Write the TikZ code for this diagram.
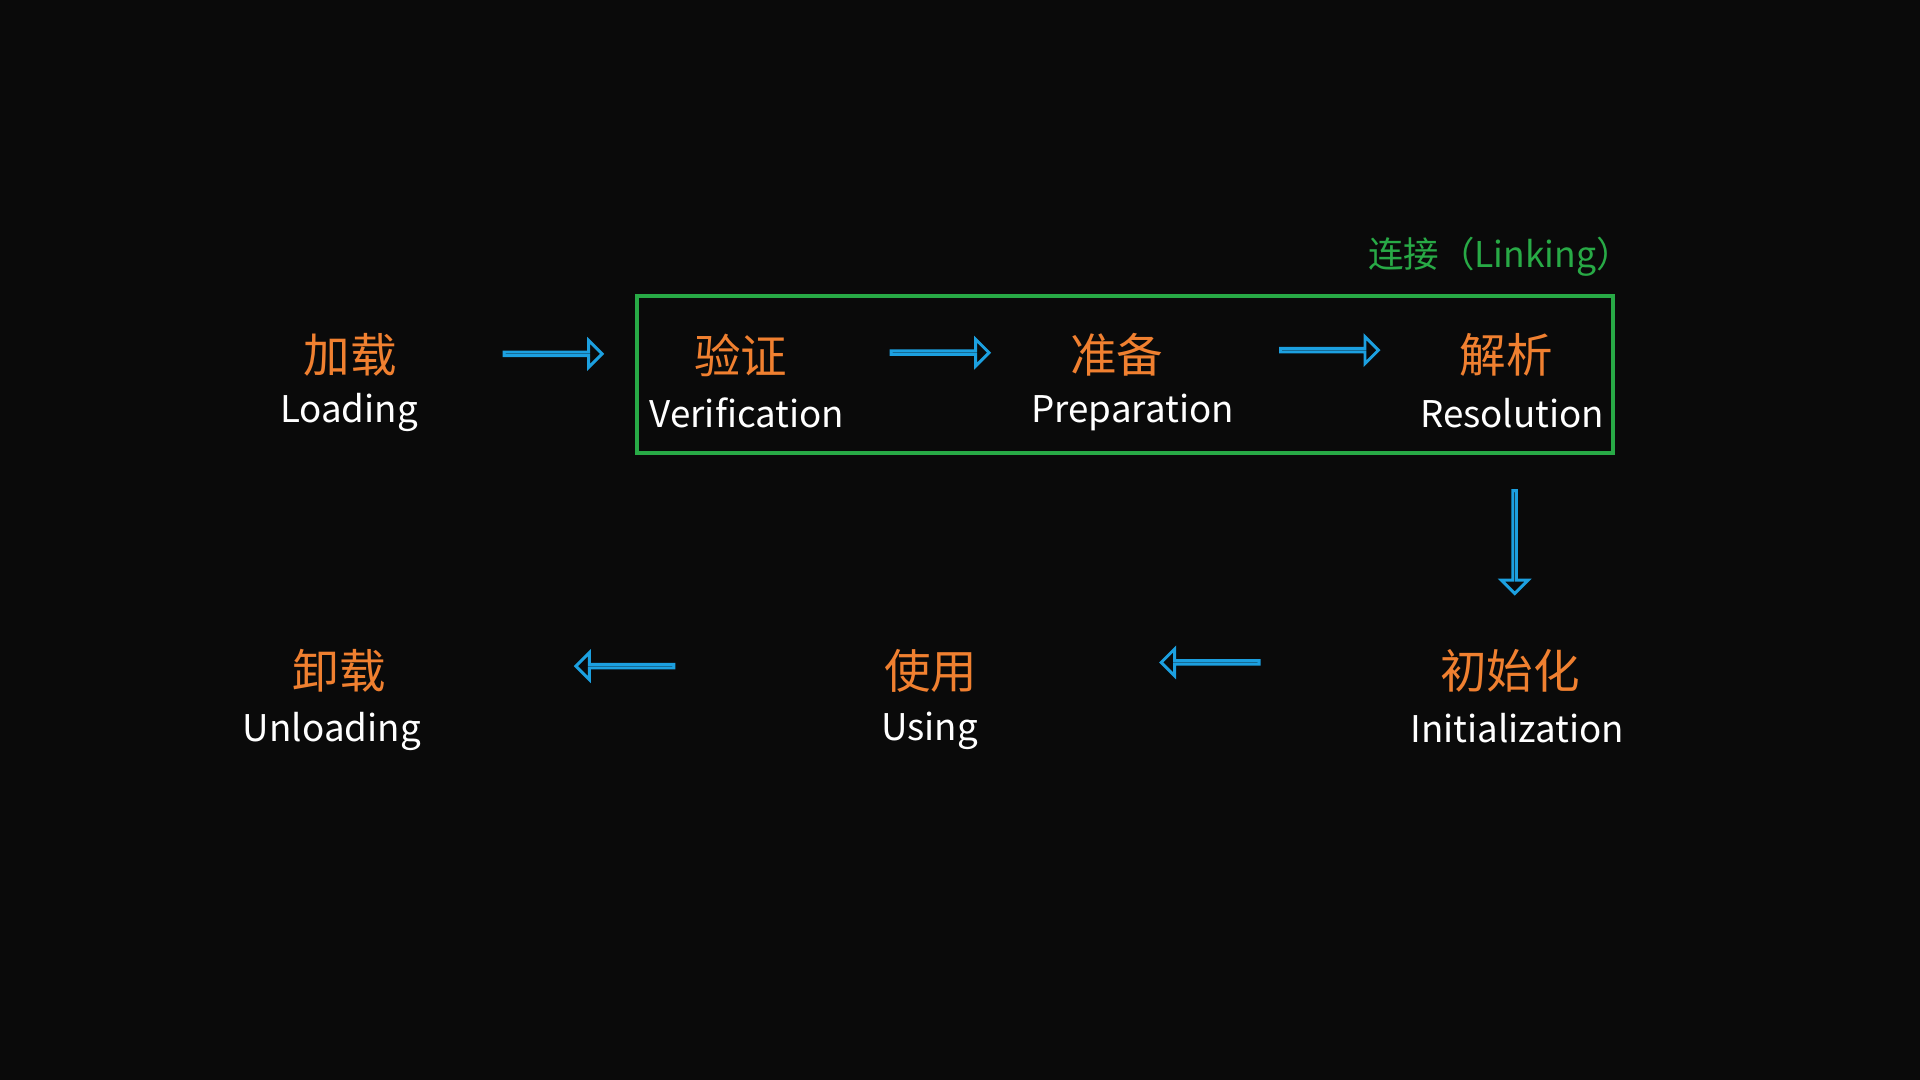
\documentclass[tikz,border=0pt]{standalone}
\usepackage{fontspec}
\setmainfont{Noto Sans CJK SC}
\usetikzlibrary{shapes.arrows}
\definecolor{bgdark}{RGB}{10,10,10}
\definecolor{stageorange}{RGB}{240,128,48}
\definecolor{flowblue}{RGB}{28,160,224}
\definecolor{linkgreen}{RGB}{40,170,70}
\tikzset{
  zh/.style={text=stageorange, font=\fontsize{38}{40}\selectfont, inner sep=0pt},
  en/.style={text=white, font=\fontsize{30}{32}\selectfont, inner sep=0pt},
  flow/.style={single arrow, draw=flowblue, line width=2.4pt, inner sep=0pt,
    minimum height=80pt, minimum width=22pt, single arrow head extend=8pt},
}
\begin{document}
\begin{tikzpicture}[x=1pt, y=-1pt]
  % background
  \fill[bgdark] (0,0) rectangle (1568,882);
  \useasboundingbox (0,0) rectangle (1568,882);

  % stages
  \node[zh] (loadzh) at (286,290) {加载};
  \node[en] (loaden) at (285,337) {Loading};
  \node[zh] (verizh) at (605,290) {验证};
  \node[en] (verien) at (610,337) {Verification};
  \node[zh] (prepzh) at (912,290) {准备};
  \node[en] (prepen) at (925,337) {Preparation};
  \node[zh] (reszh) at (1230,290) {解析};
  \node[en] (resen) at (1235,337) {Resolution};
  \node[zh] (initzh) at (1233,548) {初始化};
  \node[en] (initen) at (1239,595) {Initialization};
  \node[zh] (usezh) at (760,548) {使用};
  \node[en] (useen) at (759,597) {Using};
  \node[zh] (unlzh) at (277,548) {卸载};
  \node[en] (unlen) at (271,597) {Unloading};

  % linking box
  \draw[linkgreen, line width=3pt] (520,242) rectangle (1317,370);
  \node[text=linkgreen, font=\fontsize{29}{31}\selectfont, inner sep=0pt]
    (linking) at (1225,210) {连接（Linking）};

  % arrows
  \node[flow] (a1) at (451,289) {};
  \node[flow] (a2) at (767,288) {};
  \node[flow] (a3) at (1085,286) {};
  \node[flow, shape border rotate=270, minimum height=84pt] (a4) at (1237,442) {};
  \node[flow, shape border rotate=180] (a5) at (989,541) {};
  \node[flow, shape border rotate=180] (a6) at (511,544) {};
\end{tikzpicture}
\end{document}
